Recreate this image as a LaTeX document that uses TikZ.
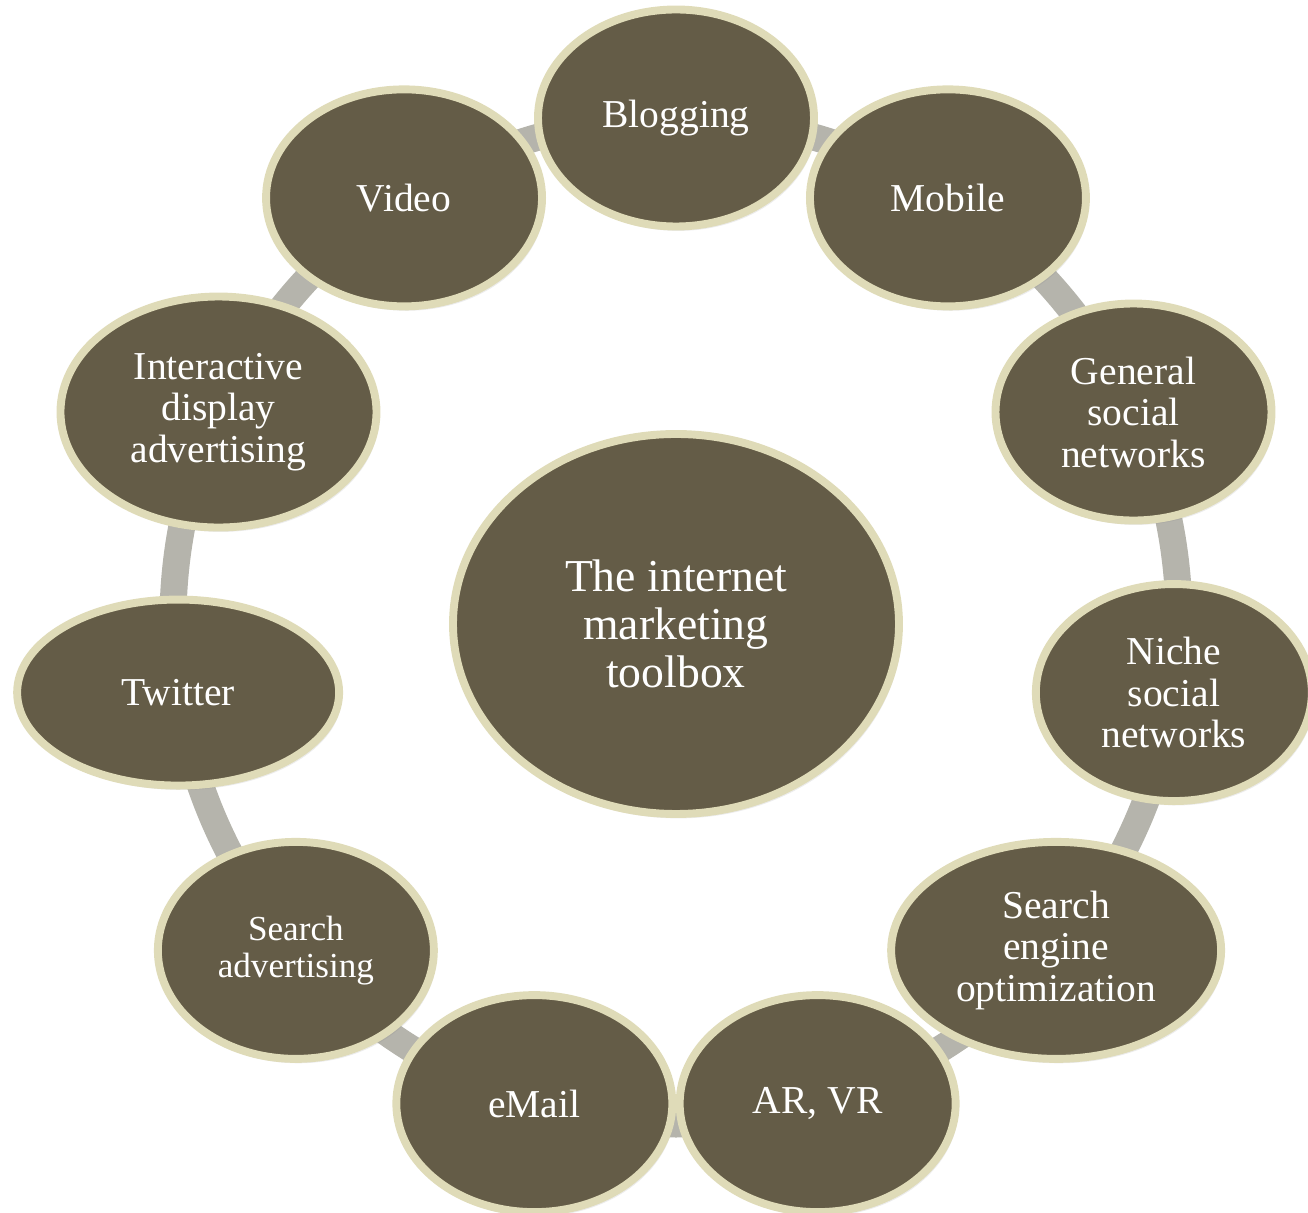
\documentclass[tikz,border=0pt]{standalone}
\usepackage{fontspec}
\setmainfont{Liberation Serif}
\usepackage{xcolor}
\usetikzlibrary{shapes.geometric, shadows}
\definecolor{bubble}{RGB}{100,92,71}
\definecolor{rim}{RGB}{223,219,184}
\definecolor{track}{RGB}{181,180,172}

\tikzset{
  tool/.style={ellipse, draw=rim, fill=bubble, line width=4.5pt, text=white,
    align=center, inner sep=0pt, minimum width=5.52cm, minimum height=4.34cm,
    font=\fontsize{22.5}{23.6}\selectfont,
    drop shadow={shadow xshift=1.5pt, shadow yshift=-2.5pt, opacity=0.15}},
  hub/.style={tool, minimum width=8.92cm, minimum height=7.6cm,
    font=\fontsize{26}{27.2}\selectfont}
}

\begin{document}
\begin{tikzpicture}
    \useasboundingbox (-13.52,-11.84) rectangle (12.64,12.42);

    % Grey track under the outer ring
    \coordinate (o) at (0,0);
    \draw[track, line width=0.54cm] (o) circle (10.06);

    % Centre
    \node[hub] (box) at (0,-0.06) {The internet\\marketing\\toolbox};

    % Outer ring - 11 tools, 360/11 degrees apart, counter-clockwise from the top
    \node[tool] (blog) at (90:10.06) {Blogging};
    \node[tool] (video) at (122.73:10.06) {Video};
    \node[tool, minimum width=6.32cm, minimum height=4.62cm] (display) at (155.45:10.06) {Interactive\\display\\advertising};
    \node[tool, minimum width=6.44cm, minimum height=3.72cm] (twitter) at (188.18:10.06) {Twitter};
    \node[tool, font=\fontsize{20}{20.8}\selectfont] (searchad) at (220.91:10.06) {Search\\advertising};
    \node[tool] (email) at (253.64:10.06) {eMail};
    \node[tool] (arvr) at (286.36:10.06) {AR, VR};
    \node[tool, minimum width=6.6cm] (seo) at (319.09:10.06) {Search\\engine\\optimization};
    \node[tool] (niche) at (351.82:10.06) {Niche\\social\\networks};
    \node[tool] (general) at (24.55:10.06) {General\\social\\networks};
    \node[tool] (mobile) at (57.27:10.06) {Mobile};

\end{tikzpicture}
\end{document}
